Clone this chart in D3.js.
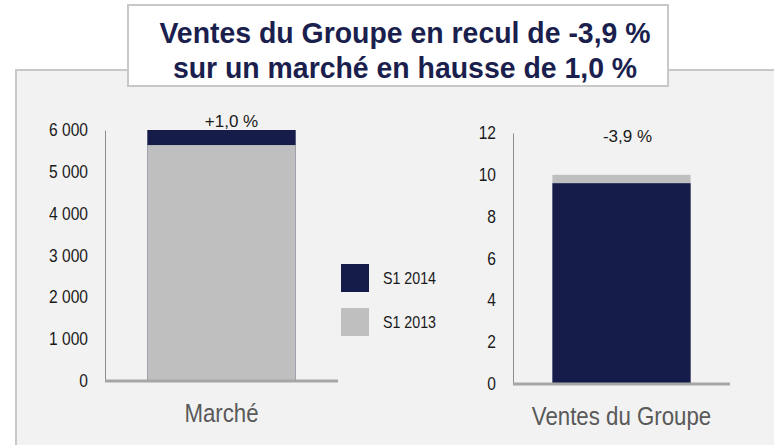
<!DOCTYPE html>
<html>
<head>
<meta charset="utf-8">
<title>Ventes du Groupe</title>
<script src="https://cdn.jsdelivr.net/npm/d3@7/dist/d3.min.js"></script>
<style>
  body { margin: 0; background: #ffffff; }
  svg { display: block; font-family: "Liberation Sans", Arial, sans-serif; }
</style>
</head>
<body>
<div id="chart"></div>
<script>
// chart data
var titleLines = ["Ventes du Groupe en recul de -3,9 %", "sur un marché en hausse de 1,0 %"];
var categories = ["Marché", "Ventes du Groupe"];
var seriesNames = ["S1 2014", "S1 2013"];
var sales2013 = [5640, 10];
var sales2014 = [6000, 9.6];
var changeLabels = ["+1,0 %", "-3,9 %"];
var ticksMarche = [0, 1000, 2000, 3000, 4000, 5000, 6000];
var ticksGroupe = [0, 2, 4, 6, 8, 10, 12];

var Colors = { navy: "#161c4a", grey: "#bfbfbf", axis: "#a6a6a6" };
var W = 774, H = 445;
var NARROW = 0.89; // the original uses a condensed face

var svg = d3.select("#chart").append("svg")
  .attr("width", W)
  .attr("height", H);

// text squeezed horizontally, anchored at (x, y)
function label(parent, x, y, k, txt) {
  return parent.append("text")
    .attr("transform", "translate(" + x + "," + y + ") scale(" + k + ",1)")
    .text(txt);
}

// grey panel
svg.append("rect")
  .attr("x", 16).attr("y", 70)
  .attr("width", W).attr("height", H)
  .attr("fill", "#f2f2f2")
  .attr("stroke", "#c8c8c8")
  .attr("stroke-width", 2);

// title box
svg.append("rect")
  .attr("x", 128).attr("y", 5)
  .attr("width", 540).attr("height", 81)
  .attr("fill", "#ffffff")
  .attr("stroke", "#c8c8c8")
  .attr("stroke-width", 2);

titleLines.forEach(function(line, i) {
  label(svg, 405, 43 + i * 35, 0.98, line)
    .attr("text-anchor", "middle")
    .attr("font-weight", "bold")
    .attr("font-size", 29)
    .attr("fill", "#1b1f4e");
});

// one panel per category, each with its own scale
var panels = [
  { xr: [105, 338], yr: [381, 130], ticks: ticksMarche, labelDx: 10, labelDy: -3 },
  { xr: [513, 730], yr: [384, 133], ticks: ticksGroupe, labelDx: 6, labelDy: 9 }
];

var fmt = function(v) { return d3.format(",")(v).replace(/,/g, " "); };

panels.forEach(function(p, i) {
  var g = svg.append("g");
  var ticks = p.ticks;
  var y = d3.scaleLinear().domain([0, ticks[ticks.length - 1]]).range(p.yr);
  var x = d3.scaleBand().domain([categories[i]]).range(p.xr).paddingInner(0).paddingOuter(0.285);

  // tick labels
  var pad = 17;
  var yAxis = d3.axisLeft(y).tickValues(ticks).tickSize(0).tickPadding(pad).tickFormat(fmt);
  var ax = g.append("g").attr("transform", "translate(" + p.xr[0] + ",0)").call(yAxis);
  ax.select(".domain").attr("stroke", "#8c8c8c").attr("stroke-width", 1);
  ax.selectAll("text")
    .attr("font-size", 17.5)
    .attr("fill", "#1a1a1a")
    .attr("font-family", "Liberation Sans, Arial, sans-serif")
    .attr("x", -pad / NARROW)
    .attr("transform", "scale(" + NARROW + ",1)");

  // bars: bigger one behind, smaller one in front
  var bars = [
    { name: seriesNames[0], value: sales2014[i], color: Colors.navy },
    { name: seriesNames[1], value: sales2013[i], color: Colors.grey }
  ].sort(function(a, b) { return b.value - a.value; });

  g.selectAll("rect.bar").data(bars).enter().append("rect")
    .attr("class", "bar")
    .attr("x", x(categories[i]))
    .attr("width", x.bandwidth())
    .attr("y", function(d) { return y(d.value); })
    .attr("height", function(d) { return y(0) - y(d.value); })
    .attr("fill", function(d) { return d.color; });

  // baseline
  g.append("line")
    .attr("x1", p.xr[0]).attr("x2", p.xr[1])
    .attr("y1", y(0)).attr("y2", y(0))
    .attr("stroke", Colors.axis)
    .attr("stroke-width", 3);

  // change label
  g.append("text")
    .attr("x", x(categories[i]) + x.bandwidth() / 2 + p.labelDx)
    .attr("y", y.range()[1] + p.labelDy)
    .attr("text-anchor", "middle")
    .attr("font-size", 17)
    .attr("fill", "#1a1a1a")
    .text(changeLabels[i]);

  // category label
  label(g, x(categories[i]) + x.bandwidth() / 2, y(0) + 41, NARROW, categories[i])
    .attr("text-anchor", "middle")
    .attr("font-size", 25)
    .attr("fill", "#595959");
});

// legend
var legend = svg.append("g").attr("transform", "translate(341,264)");
var legendColors = [Colors.navy, Colors.grey];
seriesNames.forEach(function(name, i) {
  legend.append("rect")
    .attr("x", 0).attr("y", i * 44)
    .attr("width", 28).attr("height", 28)
    .attr("fill", legendColors[i]);
  label(legend, 42, i * 44 + 14, NARROW, name)
    .attr("dy", "0.35em")
    .attr("font-size", 16)
    .attr("fill", "#1a1a1a");
});
</script>
</body>
</html>
